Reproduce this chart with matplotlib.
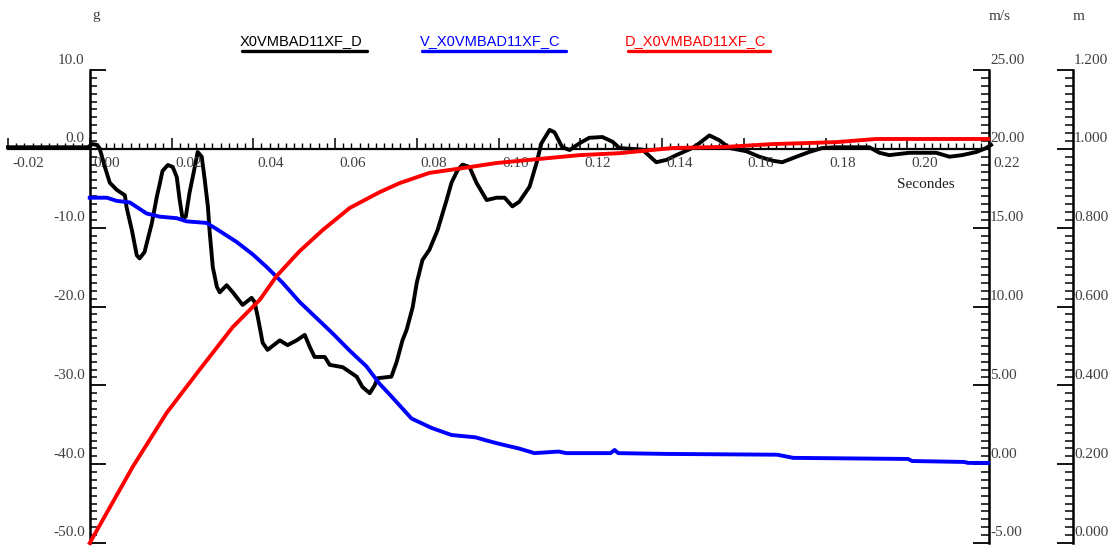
import matplotlib
matplotlib.use("Agg")
import matplotlib.pyplot as plt
import matplotlib.transforms as mtransforms
from matplotlib.lines import Line2D
from matplotlib.ticker import FixedLocator, MultipleLocator

# ---------------- data ----------------
series_names = ["X0VMBAD11XF_D", "V_X0VMBAD11XF_C", "D_X0VMBAD11XF_C"]
series_colors = ["#000000", "#0000ff", "#ff0000"]

acc_t = [-0.0200, -0.0005, 0.0007, 0.0017, 0.0024, 0.0037, 0.0049, 0.0066, 0.0086, 0.0090,
         0.0103, 0.0115, 0.0122, 0.0134, 0.0152, 0.0164, 0.0171, 0.0178, 0.0191, 0.0203,
         0.0213, 0.0220, 0.0227, 0.0235, 0.0244, 0.0257, 0.0264, 0.0274, 0.0281, 0.0289,
         0.0293, 0.0301, 0.0311, 0.0318, 0.0335, 0.0350, 0.0374, 0.0396, 0.0403, 0.0411,
         0.0423, 0.0435, 0.0465, 0.0484, 0.0506, 0.0526, 0.0538, 0.0550, 0.0575, 0.0587,
         0.0619, 0.0653, 0.0667, 0.0685, 0.0697, 0.0704, 0.0738, 0.0751, 0.0765, 0.0775,
         0.0790, 0.0800, 0.0814, 0.0831, 0.0851, 0.0873, 0.0885, 0.0900, 0.0912, 0.0929,
         0.0946, 0.0971, 0.0995, 0.1015, 0.1034, 0.1051, 0.1076, 0.1093, 0.1105, 0.1125,
         0.1137, 0.1156, 0.1174, 0.1198, 0.1222, 0.1254, 0.1279, 0.1296, 0.1352, 0.1386,
         0.1411, 0.1435, 0.1474, 0.1491, 0.1516, 0.1540, 0.1565, 0.1606, 0.1638, 0.1670,
         0.1694, 0.1729, 0.1760, 0.1792, 0.1826, 0.1907, 0.1932, 0.1956, 0.2005, 0.2071,
         0.2103, 0.2134, 0.2169, 0.2193, 0.2205]
acc_g = [0.2, 0.2, 0.6, 0.5, 0.1, -2.3, -4.3, -5.2, -5.9, -7.4,
         -10.3, -13.5, -13.9, -13.1, -9.4, -6.1, -4.5, -2.8, -2.05, -2.3,
         -3.6, -6.5, -8.8, -8.6, -5.6, -2.3, -0.4, -1.0, -3.8, -7.3,
         -10.3, -15.0, -17.5, -18.2, -17.3, -18.2, -19.8, -18.9, -19.4, -21.3,
         -24.6, -25.5, -24.3, -24.9, -24.3, -23.6, -25.1, -26.4, -26.4, -27.4,
         -27.7, -28.9, -30.2, -31.0, -30.0, -29.1, -28.9, -27.0, -24.3, -23.0,
         -20.1, -17.0, -14.1, -12.8, -10.3, -6.5, -4.3, -2.7, -2.0, -2.3,
         -4.3, -6.5, -6.2, -6.2, -7.3, -6.7, -4.8, -1.8, 0.7, 2.4,
         2.1, 0.2, -0.15, 0.7, 1.4, 1.5, 0.9, 0.1, -0.1, -1.7,
         -1.4, -0.8, 0.1, 0.7, 1.7, 1.1, 0.1, -0.3, -1.0, -1.5,
         -1.7, -1.0, -0.4, 0.1, 0.2, 0.2, -0.5, -0.8, -0.5, -0.5,
         -1.0, -0.8, -0.4, 0.1, 0.5]

vel_t = [0.0000, 0.0042, 0.0066, 0.0098, 0.0139, 0.0171, 0.0213, 0.0237, 0.0286, 0.0311,
         0.0359, 0.0399, 0.0433, 0.0472, 0.0513, 0.0594, 0.0636, 0.0677, 0.0709, 0.0738,
         0.0787, 0.0836, 0.0885, 0.0944, 0.0971, 0.1000, 0.1049, 0.1088, 0.1147, 0.1166,
         0.1274, 0.1284, 0.1293, 0.1411, 0.1682, 0.1721, 0.2002, 0.2012, 0.2139, 0.2149,
         0.2198]
vel_ms = [16.9, 16.9, 16.7, 16.6, 15.9, 15.7, 15.6, 15.4, 15.3, 14.9,
          14.1, 13.3, 12.5, 11.5, 10.3, 8.3, 7.2, 6.2, 5.1, 4.3,
          2.9, 2.3, 1.85, 1.7, 1.5, 1.3, 1.0, 0.7, 0.8, 0.7,
          0.7, 0.9, 0.7, 0.65, 0.6, 0.4, 0.33, 0.2, 0.14, 0.08,
          0.08]

dep_t = [0.0000, 0.0105, 0.0188, 0.0269, 0.0350, 0.0416, 0.0457, 0.0513, 0.0570, 0.0636,
         0.0709, 0.0758, 0.0831, 0.0912, 0.0995, 0.1076, 0.1198, 0.1296, 0.1425, 0.1557,
         0.1670, 0.1826, 0.1924, 0.2198]
dep_m = [0.000, 0.193, 0.330, 0.440, 0.548, 0.617, 0.677, 0.740, 0.794, 0.850,
         0.890, 0.913, 0.939, 0.951, 0.964, 0.972, 0.984, 0.989, 1.002, 1.005,
         1.012, 1.017, 1.025, 1.025]

x_ticks = [-0.02, 0.00, 0.02, 0.04, 0.06, 0.08, 0.10, 0.12, 0.14, 0.16, 0.18, 0.20, 0.22]
x_tick_labels = ["-0.02", "0.00", "0.02", "0.04", "0.06", "0.08", "0.10", "0.12",
                 "0.14", "0.16", "0.18", "0.20", "0.22"]
g_ticks = [10, 0, -10, -20, -30, -40, -50]
g_tick_labels = ["10.0", "0.0", "-10.0", "-20.0", "-30.0", "-40.0", "-50.0"]
v_ticks = [25, 20, 15, 10, 5, 0, -5]
v_tick_labels = ["25.00", "20.00", "15.00", "10.00", "5.00", "0.00", "-5.00"]
d_ticks = [1.2, 1.0, 0.8, 0.6, 0.4, 0.2, 0.0]
d_tick_labels = ["1.200", "1.000", "0.800", "0.600", "0.400", "0.200", "0.000"]

x_title = "Secondes"
units = ["g", "m/s", "m"]

# ---------------- layout ----------------
W, H = 1118, 549
fig = plt.figure(figsize=(W / 100, H / 100), dpi=100)
fig.patch.set_facecolor("white")

serif = "Liberation Serif"
sans = "Liberation Sans"
tick_col = "#404040"
fs_tick = 11

ax = fig.add_axes([8 / W, 1 - 543 / H, 981 / W, 473 / H])
ax.set_xlim(-0.02, 0.22)
ax.set_ylim(-50, 10)
ax.patch.set_alpha(0)
for s in ["top", "right"]:
    ax.spines[s].set_visible(False)
ax.spines["left"].set_position(("data", 0))
ax.spines["bottom"].set_position(("data", 0))
ax.spines["left"].set_linewidth(1.8)
ax.spines["bottom"].set_linewidth(1.6)
ax.xaxis.set_major_locator(FixedLocator(x_ticks))
ax.xaxis.set_minor_locator(MultipleLocator(0.002))
ax.yaxis.set_major_locator(FixedLocator(g_ticks))
ax.yaxis.set_minor_locator(MultipleLocator(1))
ax.tick_params(axis="x", which="major", direction="in", length=8, width=1.1,
               labelbottom=False)
ax.tick_params(axis="x", which="minor", direction="in", length=4.5, width=1.0)
ax.tick_params(axis="y", which="major", direction="in", length=11.5, width=1.3,
               labelleft=False)
ax.tick_params(axis="y", which="minor", direction="in", length=5, width=1.1)

ax.plot(acc_t, acc_g, color=series_colors[0], lw=2.8, zorder=3, clip_on=False)

# velocity axis
ax2 = ax.twinx()
ax2.set_ylim(-5, 25)
for s in ["top", "left", "bottom"]:
    ax2.spines[s].set_visible(False)
ax2.spines["right"].set_linewidth(1.8)
ax2.yaxis.set_major_locator(FixedLocator(v_ticks))
ax2.yaxis.set_minor_locator(MultipleLocator(0.5))
ax2.tick_params(axis="y", which="major", direction="in", length=11.5, width=1.3,
                labelright=False)
ax2.tick_params(axis="y", which="minor", direction="in", length=5.5, width=1.1)
ax2.plot(vel_t, vel_ms, color=series_colors[1], lw=2.8, zorder=3, clip_on=False)

# displacement axis
ax3 = ax.twinx()
ax3.set_ylim(0, 1.2)
for s in ["top", "left", "bottom"]:
    ax3.spines[s].set_visible(False)
ax3.spines["right"].set_position(("axes", (1073 - 8) / 981))
ax3.spines["right"].set_linewidth(1.8)
ax3.yaxis.set_major_locator(FixedLocator(d_ticks))
ax3.yaxis.set_minor_locator(MultipleLocator(0.02))
ax3.tick_params(axis="y", which="major", direction="in", length=11.5, width=1.3,
                labelright=False)
ax3.tick_params(axis="y", which="minor", direction="in", length=5.5, width=1.1)
ax3.plot(dep_t, dep_m, color=series_colors[2], lw=2.8, zorder=3, clip_on=False)

# ---------------- tick labels (drawn as text) ----------------
def off(tr, dx, dy):
    return tr + mtransforms.Affine2D().translate(dx, dy)

for t, lab in zip(x_ticks, x_tick_labels):
    ax.text(t, 0, lab, transform=off(ax.transData, 4, -8), ha="left", va="top",
            fontsize=fs_tick, family=serif, color=tick_col)

for v, lab in zip(g_ticks, g_tick_labels):
    ax.text(0, v, lab, transform=off(ax.transData, -5, 10), ha="right",
            va="center", fontsize=fs_tick, family=serif, color=tick_col)

tr2 = mtransforms.blended_transform_factory(ax2.transAxes, ax2.transData)
for v, lab in zip(v_ticks, v_tick_labels):
    ax2.text(1.0, v, lab, transform=off(tr2, 1, 10), ha="left", va="center",
             fontsize=fs_tick, family=serif, color=tick_col)

tr3 = mtransforms.blended_transform_factory(ax3.transAxes, ax3.transData)
for v, lab in zip(d_ticks, d_tick_labels):
    ax3.text((1073 - 8) / 981, v, lab, transform=off(tr3, 1, 10), ha="left",
             va="center", fontsize=fs_tick, family=serif, color=tick_col)

# axis title and units
fig.text(955 / W, 1 - 184 / H, x_title, ha="right", va="center",
         fontsize=fs_tick, family=serif, color="#202020")
for (xp, u) in zip([96, 1000, 1079], units):
    fig.text(xp / W, 1 - 16 / H, u, ha="center", va="center",
             fontsize=fs_tick, family=serif, color=tick_col)

# ---------------- legend ----------------
leg_x = [(240, 242, 367), (420, 422, 566), (625, 628, 770)]
for (tx, u0, u1), name, col in zip(leg_x, series_names, series_colors):
    fig.text(tx / W, 1 - 41 / H, name, ha="left", va="center",
             fontsize=10.5, family=sans, color=col)
    fig.add_artist(Line2D([u0 / W, u1 / W], [1 - 51 / H, 1 - 51 / H],
                          transform=fig.transFigure, color=col, lw=2.4,
                          solid_capstyle="round"))

fig.savefig("out.png", dpi=100, facecolor="white")
